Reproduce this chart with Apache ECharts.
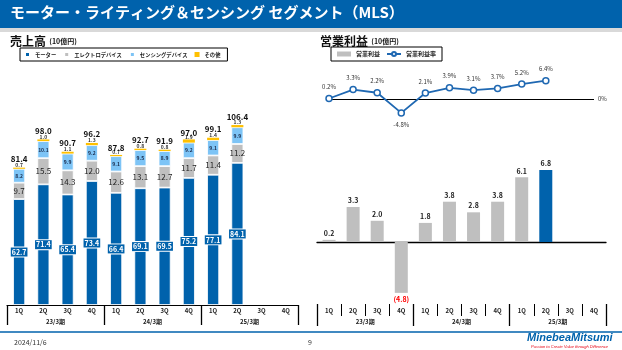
<!DOCTYPE html>
<html>
<head>
<meta charset="utf-8">
<script src="https://cdn.jsdelivr.net/npm/echarts@6/dist/echarts.min.js"></script>
<style>
  html, body { margin: 0; padding: 0; background: #fff; }
  #chart { width: 622px; height: 350px; }
</style>
</head>
<body>
<div id="chart"></div>
<script>
// 四半期・年度
const quarters = ['1Q', '2Q', '3Q', '4Q', '1Q', '2Q', '3Q', '4Q', '1Q', '2Q', '3Q', '4Q']
const years = ['23/3期', '24/3期', '25/3期']

// 売上高 (10億円)
const motor = [62.7, 71.4, 65.4, 73.4, 66.4, 69.1, 69.5, 75.2, 77.1, 84.1, null, null]
const electro = [9.7, 15.5, 14.3, 12.0, 12.6, 13.1, 12.7, 11.7, 11.4, 11.2, null, null]
const sensing = [8.2, 10.1, 9.9, 9.2, 9.1, 9.5, 8.9, 9.2, 9.1, 9.9, null, null]
const other = [0.7, 1.0, 1.1, 1.3, 0.7, 0.8, 0.8, 1.9, 1.4, 1.3, null, null]
const salesTotal = [81.4, 98.0, 90.7, 96.2, 87.8, 92.7, 91.9, 97.0, 99.1, 106.4, null, null]

// 営業利益 (10億円) と 営業利益率 (%)
const profit = [0.2, 3.3, 2.0, -4.8, 1.8, 3.8, 2.8, 3.8, 6.1, 6.8, null, null]
const margin = [0.2, 3.3, 2.2, -4.8, 2.1, 3.9, 3.1, 3.7, 5.2, 6.4, null, null]

const BLUE = '#0062AC'
const FONT = '"Noto Sans CJK JP", sans-serif'

const chart = echarts.init(document.getElementById('chart'))

// 最新の四半期だけ青で強調
const lastIdx = profit.reduce((acc, v, i) => (v != null ? i : acc), -1)

const leftGrid = { left: 7, right: 324, top: 60, bottom: 45 }
const rightGrid = { left: 317, right: 16, top: 150, bottom: 46 }

function hiddenY(gridIndex, min, max) {
  return { type: 'value', gridIndex: gridIndex, min: min, max: max, show: false }
}

// 線は見せずに目盛りだけ描く軸
const noLine = { show: true, onZero: false, lineStyle: { color: 'rgba(0,0,0,0)', width: 0 } }

const option = {
  animation: false,
  textStyle: { fontFamily: FONT },
  grid: [
    Object.assign({}, leftGrid),
    Object.assign({}, leftGrid),
    Object.assign({}, rightGrid),
    Object.assign({}, rightGrid),
    Object.assign({}, rightGrid),
    { left: 329, right: 28, top: 70, height: 55 }
  ],
  legend: [
    {
      data: ['モーター', 'エレクトロデバイス', 'センシングデバイス', 'その他'],
      left: 20, top: 48, icon: 'rect',
      borderColor: '#000', borderWidth: 1,
      padding: [3, 7, 3, 4],
      itemWidth: 5, itemHeight: 5, itemGap: 7,
      textStyle: { fontSize: 5.3, fontWeight: 'bold', color: '#222', fontFamily: FONT }
    },
    {
      data: [{ name: '営業利益', icon: 'rect' }, '営業利益率'],
      left: 331, top: 47,
      borderColor: '#000', borderWidth: 1,
      padding: [4, 6, 4, 6],
      itemWidth: 14, itemHeight: 5, itemGap: 6,
      textStyle: { fontSize: 6, fontWeight: 'bold', color: '#222', fontFamily: FONT }
    }
  ],
  xAxis: [
    {
      type: 'category', gridIndex: 0, data: quarters,
      axisLine: { lineStyle: { color: '#000', width: 1 } },
      axisTick: { length: 10, lineStyle: { color: '#000' } },
      axisLabel: { fontSize: 6, fontWeight: 'bold', color: '#222', margin: 3 }
    },
    {
      type: 'category', gridIndex: 1, data: years,
      axisLine: noLine,
      axisTick: { show: true, length: 20, lineStyle: { color: '#000', width: 1.3 } },
      axisLabel: { fontSize: 6, fontWeight: 'bold', color: '#222', margin: 14 }
    },
    {
      type: 'category', gridIndex: 2, data: quarters,
      axisLine: { onZero: true, lineStyle: { color: '#000', width: 1.3 } },
      axisTick: { length: 3, lineStyle: { color: '#000' } },
      axisLabel: { show: false }
    },
    {
      type: 'category', gridIndex: 3, data: quarters,
      axisLine: noLine,
      axisTick: { show: true, length: 12, lineStyle: { color: '#000' } },
      axisLabel: { fontSize: 6, fontWeight: 'bold', color: '#222', margin: 4 }
    },
    {
      type: 'category', gridIndex: 4, data: years,
      axisLine: noLine,
      axisTick: { show: true, length: 22, lineStyle: { color: '#000', width: 1.3 } },
      axisLabel: { fontSize: 6, fontWeight: 'bold', color: '#222', margin: 15 }
    },
    {
      type: 'category', gridIndex: 5, data: quarters, boundaryGap: false, show: false
    }
  ],
  yAxis: [
    hiddenY(0, 0, 145),
    hiddenY(1, 0, 145),
    hiddenY(2, -5.85, 8.68),
    hiddenY(3, -5.85, 8.68),
    hiddenY(4, -5.85, 8.68),
    hiddenY(5, -9, 10.1)
  ],
  series: [
    {
      name: 'モーター', type: 'bar', stack: 'sales', xAxisIndex: 0, yAxisIndex: 0,
      data: motor, barWidth: 12,
      itemStyle: { color: BLUE, borderColor: '#fff', borderWidth: 0.8 },
      label: {
        show: true, position: 'inside', fontSize: 7, fontWeight: 'bold', color: '#fff',
        backgroundColor: BLUE, borderColor: '#fff', borderWidth: 1, padding: [1, 1],
        formatter: p => p.value.toFixed(1)
      }
    },
    {
      name: 'エレクトロデバイス', type: 'bar', stack: 'sales', xAxisIndex: 0, yAxisIndex: 0,
      data: electro,
      itemStyle: { color: '#BFBFBF', borderColor: '#fff', borderWidth: 0.8 },
      label: { show: true, position: 'inside', fontSize: 8, color: '#222', formatter: p => p.value.toFixed(1) }
    },
    {
      name: 'センシングデバイス', type: 'bar', stack: 'sales', xAxisIndex: 0, yAxisIndex: 0,
      data: sensing,
      itemStyle: { color: '#7DC4F6', borderColor: '#fff', borderWidth: 0.8 },
      label: { show: true, position: 'inside', fontSize: 5, fontWeight: 'bold', color: '#1a2a4a', formatter: p => p.value.toFixed(1) }
    },
    {
      name: 'その他', type: 'bar', stack: 'sales', xAxisIndex: 0, yAxisIndex: 0,
      data: other,
      itemStyle: { color: '#FFC000' },
      label: { show: true, position: 'top', distance: 0, fontSize: 5, fontWeight: 'bold', color: '#333', formatter: p => p.value.toFixed(1) }
    },
    {
      name: '合計', type: 'line', xAxisIndex: 0, yAxisIndex: 0,
      data: salesTotal, symbol: 'circle', symbolSize: 1,
      itemStyle: { color: 'transparent' }, lineStyle: { opacity: 0 },
      label: { show: true, position: 'top', distance: 4, fontSize: 8, fontWeight: 'bold', color: '#111', formatter: p => p.value.toFixed(1) }
    },
    {
      name: '営業利益', type: 'bar', xAxisIndex: 2, yAxisIndex: 2, barWidth: 13,
      itemStyle: { color: '#BFBFBF' },
      data: profit.map((v, i) => v == null ? null : {
        value: v,
        itemStyle: { color: i === lastIdx ? BLUE : '#BFBFBF' },
        label: {
          show: true,
          position: v < 0 ? 'bottom' : 'top',
          distance: 3,
          fontSize: 7, fontWeight: 'bold',
          color: v < 0 ? '#FF0000' : '#222',
          formatter: v < 0 ? '(' + (-v).toFixed(1) + ')' : v.toFixed(1)
        }
      })
    },
    {
      name: '営業利益率', type: 'line', xAxisIndex: 5, yAxisIndex: 5,
      data: margin.map(v => v == null ? null : {
        value: v,
        label: { position: v < 0 ? 'bottom' : 'top' }
      }),
      symbol: 'circle', symbolSize: 6,
      itemStyle: { color: '#fff', borderColor: '#1F68B2', borderWidth: 1.5 },
      lineStyle: { color: '#1F68B2', width: 1.8 },
      label: { show: true, distance: 5, fontSize: 6, color: '#333', formatter: p => p.value.toFixed(1) + '%' },
      markLine: {
        silent: true, symbol: 'none',
        lineStyle: { color: '#000', width: 1.2, type: 'solid' },
        label: { show: true, position: 'end', formatter: '0%', fontSize: 6, color: '#333', distance: 4 },
        data: [{ yAxis: 0 }]
      },
      z: 5
    }
  ],
  graphic: [
    { type: 'rect', shape: { x: 0, y: 0, width: 622, height: 28 }, style: { fill: BLUE } },
    { type: 'rect', shape: { x: 0, y: 28, width: 622, height: 4 }, style: { fill: '#D9D9D9' } },
    {
      type: 'text', left: 10, top: 5,
      style: { text: 'モーター・ライティング＆センシング セグメント（MLS）', fill: '#fff', font: 'bold 15px ' + FONT }
    },
    {
      type: 'text', left: 10, top: 35,
      style: {
        text: '{a|売上高} {b|(10億円)}',
        rich: {
          a: { fontSize: 12, fontWeight: 'bold', fill: '#111', fontFamily: FONT },
          b: { fontSize: 7, fontWeight: 'bold', fill: '#111', fontFamily: FONT }
        }
      }
    },
    {
      type: 'text', left: 320, top: 35,
      style: {
        text: '{a|営業利益} {b|(10億円)}',
        rich: {
          a: { fontSize: 12, fontWeight: 'bold', fill: '#111', fontFamily: FONT },
          b: { fontSize: 7, fontWeight: 'bold', fill: '#111', fontFamily: FONT }
        }
      }
    },
    { type: 'line', shape: { x1: 0, y1: 332, x2: 622, y2: 332 }, style: { stroke: BLUE, lineWidth: 1.5 } },
    { type: 'text', left: 14, top: 339, style: { text: '2024/11/6', fill: '#333', font: '7px ' + FONT } },
    { type: 'text', left: 308, top: 339, style: { text: '9', fill: '#333', font: '7px ' + FONT } },
    { type: 'text', left: 527, top: 332, style: { text: 'MinebeaMitsumi', fill: BLUE, font: 'italic bold 11px "Liberation Sans", sans-serif' } },
    { type: 'text', left: 531, top: 345, style: { text: 'Passion to Create Value through Difference', fill: '#E60012', font: 'italic 4px "Liberation Sans", sans-serif' } }
  ]
}

chart.setOption(option)
window.addEventListener('resize', () => chart.resize())
</script>
</body>
</html>
